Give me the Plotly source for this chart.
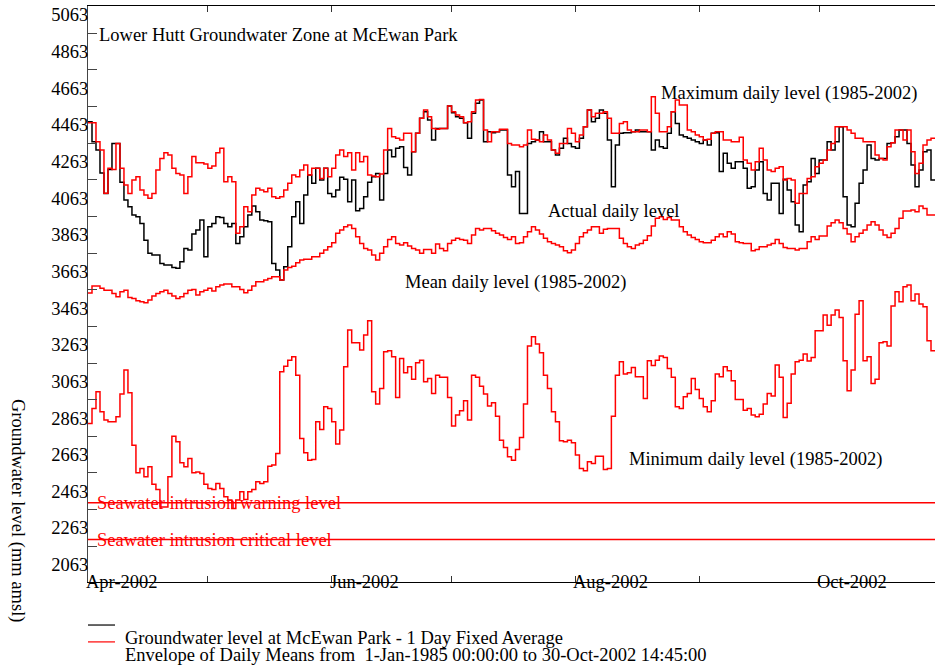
import pandas as pd
import plotly.graph_objects as go

START_DATE = "2002-04-01"
END_DATE = "2002-10-30"

MAX_LEVEL = [
    4475, 4475, 4371, 4326, 4090, 4226, 4220, 4362, 4226, 4135, 4089, 4162, 4180, 4107, 4080, 4062, 4089, 4217, 4280, 4311,
    4299, 4226, 4198, 4189, 4089, 4180, 4290, 4257, 4257, 4249, 4226, 4238, 4311, 4335, 4153, 4180, 4153, 3871, 3907, 4016,
    3989, 4080, 4117, 4107, 4098, 4117, 4071, 4062, 4071, 4107, 4144, 4189, 4180, 4217, 4244, 4189, 4226, 4226, 4171, 4226,
    4180, 4226, 4299, 4326, 4290, 4311, 4217, 4311, 4262, 4290, 4189, 4184, 4180, 4195, 4326, 4444, 4399, 4390, 4380, 4417,
    4417, 4317, 4417, 4499, 4544, 4508, 4444, 4439, 4444, 4444, 4566, 4535, 4517, 4508, 4475, 4480, 4535, 4599, 4602, 4435,
    4371, 4426, 4426, 4439, 4439, 4362, 4353, 4353, 4344, 4353, 4435, 4384, 4380, 4371, 4408, 4380, 4326, 4308, 4362, 4362,
    4444, 4417, 4371, 4408, 4453, 4544, 4508, 4526, 4526, 4535, 4499, 4417, 4417, 4471, 4480, 4435, 4426, 4426, 4435, 4435,
    4426, 4617, 4526, 4426, 4426, 4453, 4535, 4599, 4572, 4572, 4435, 4426, 4408, 4399, 4380, 4384, 4417, 4426, 4426, 4380,
    4380, 4371, 4371, 4395, 4271, 4253, 4217, 4262, 4335, 4271, 4217, 4208, 4226, 4235, 4162, 4171, 4162, 4035, 4089, 4089,
    4171, 4180, 4235, 4253, 4271, 4326, 4362, 4453, 4453, 4453, 4435, 4417, 4390, 4390, 4371, 4371, 4371, 4299, 4280, 4271,
    4344, 4366, 4435, 4435, 4380, 4435, 4317, 4198, 4253, 4353, 4380, 4390,
]

ACTUAL_LEVEL = [
    4480, 4371, 4326, 4200, 4089, 4220, 4362, 4362, 4150, 4053, 4016, 3971, 3962, 3925, 3834, 3762, 3753, 3753, 3707, 3698,
    3698, 3685, 3680, 3716, 3789, 3780, 3867, 3889, 3944, 3743, 3907, 3925, 3962, 3958, 3925, 3907, 3925, 3816, 3853, 3907,
    3971, 4020, 3989, 3944, 3940, 3935, 3707, 3671, 3616, 3689, 3798, 3962, 4044, 3925, 4080, 4189, 4144, 4226, 4162, 4226,
    4089, 4071, 4107, 4177, 4166, 4044, 4162, 3995, 4007, 4071, 4150, 4180, 4198, 4053, 4198, 4326, 4289, 4335, 4344, 4231,
    4189, 4317, 4417, 4499, 4535, 4490, 4380, 4444, 4444, 4444, 4566, 4530, 4508, 4499, 4475, 4390, 4526, 4581, 4599, 4371,
    4426, 4420, 4426, 4435, 4435, 4189, 4126, 4208, 3980, 3980, 4362, 4371, 4380, 4426, 4371, 4371, 4326, 4299, 4335, 4390,
    4362, 4344, 4335, 4390, 4453, 4544, 4480, 4499, 4544, 4526, 4380, 4126, 4353, 4417, 4420, 4420, 4426, 4435, 4426, 4426,
    4426, 4326, 4380, 4344, 4335, 4417, 4535, 4471, 4408, 4399, 4390, 4380, 4371, 4362, 4380, 4353, 4417, 4420, 4208, 4308,
    4253, 4226, 4262, 4262, 4226, 4117, 4126, 4217, 4262, 4089, 4053, 4144, 4144, 3980, 4166, 4107, 4044, 3916, 3880, 4135,
    4153, 4280, 4198, 4271, 4271, 4371, 4326, 4371, 4453, 4071, 3916, 3907, 4035, 4144, 4217, 4353, 4280, 4271, 4280, 4280,
    4362, 4366, 4399, 4435, 4435, 4362, 4244, 4126, 4217, 4317, 4326, 4162,
]

MEAN_LEVEL = [
    3545, 3583, 3583, 3571, 3561, 3561, 3543, 3525, 3552, 3561, 3521, 3516, 3503, 3498, 3492, 3507, 3529, 3543, 3552, 3561,
    3543, 3529, 3516, 3525, 3543, 3561, 3565, 3534, 3552, 3561, 3571, 3556, 3580, 3589, 3594, 3594, 3580, 3580, 3565, 3547,
    3561, 3583, 3607, 3607, 3616, 3625, 3634, 3634, 3616, 3671, 3685, 3692, 3711, 3725, 3729, 3729, 3743, 3743, 3762, 3780,
    3798, 3820, 3871, 3889, 3907, 3916, 3898, 3853, 3816, 3789, 3780, 3753, 3725, 3762, 3798, 3838, 3853, 3816, 3807, 3820,
    3802, 3789, 3780, 3762, 3783, 3783, 3762, 3813, 3789, 3776, 3816, 3834, 3844, 3838, 3834, 3816, 3862, 3898, 3889, 3898,
    3898, 3885, 3871, 3862, 3849, 3838, 3853, 3816, 3820, 3853, 3880, 3907, 3889, 3867, 3844, 3825, 3816, 3807, 3798, 3776,
    3765, 3780, 3816, 3853, 3874, 3889, 3907, 3907, 3871, 3893, 3898, 3898, 3898, 3844, 3816, 3798, 3789, 3807, 3816, 3834,
    3858, 3911, 3953, 3962, 3947, 3958, 3944, 3944, 3907, 3880, 3862, 3849, 3838, 3825, 3820, 3820, 3834, 3853, 3867, 3853,
    3880, 3867, 3825, 3820, 3816, 3816, 3776, 3783, 3798, 3798, 3807, 3816, 3838, 3816, 3794, 3789, 3789, 3780, 3789, 3789,
    3825, 3853, 3838, 3856, 3856, 3911, 3929, 3944, 3929, 3898, 3867, 3825, 3853, 3871, 3889, 3916, 3935, 3916, 3889, 3862,
    3849, 3871, 3898, 3953, 3993, 3993, 3998, 3989, 4020, 4007, 3971, 3971,
]

MIN_LEVEL = [
    2833, 2915, 3006, 2897, 2852, 2843, 2843, 2870, 2994, 3125, 3001, 2715, 2564, 2588, 2542, 2597, 2502, 2473, 2378, 2378,
    2542, 2764, 2733, 2619, 2597, 2642, 2564, 2569, 2560, 2502, 2479, 2473, 2506, 2479, 2433, 2415, 2369, 2415, 2460, 2418,
    2460, 2473, 2515, 2506, 2515, 2600, 2606, 2670, 3116, 3146, 3179, 3197, 3097, 2751, 2673, 2633, 2637, 2843, 2801, 2924,
    2915, 2843, 2721, 2797, 3143, 3343, 3274, 3274, 3234, 3316, 3394, 3006, 2939, 3024, 3225, 3230, 3197, 2975, 3188, 3110,
    3143, 3074, 3165, 3179, 3061, 3079, 2997, 3097, 3085, 3085, 2975, 2819, 2879, 2903, 2957, 2852, 3097, 3085, 3037, 2994,
    2928, 2946, 2873, 2742, 2702, 2651, 2633, 2691, 2757, 2939, 3256, 3307, 3267, 3219, 3097, 3024, 2897, 2843, 2739, 2733,
    2742, 2728, 2661, 2588, 2575, 2624, 2615, 2655, 2655, 2582, 2588, 2873, 3097, 3170, 3103, 3110, 3139, 3088, 3088, 2970,
    3176, 3150, 3179, 3201, 3194, 3134, 3085, 2924, 2915, 2979, 2997, 3079, 3019, 2970, 2924, 2897, 2957, 3103, 3088, 3143,
    3121, 3066, 2964, 2964, 2906, 2915, 2879, 2870, 2884, 2939, 2997, 2983, 3152, 3085, 2866, 2943, 3103, 3170, 3179, 3212,
    3174, 3194, 3339, 3339, 3425, 3370, 3425, 3452, 3412, 3176, 3012, 3125, 3430, 3503, 3176, 3197, 3052, 3074, 3274, 3279,
    3256, 3474, 3552, 3498, 3580, 3589, 3503, 3540, 3485, 3470, 3285, 3230,
]

WARNING_LEVEL = 2400
CRITICAL_LEVEL = 2200

Y_TICK_VALUES = [5063, 4863, 4663, 4463, 4263, 4063, 3863, 3663, 3463, 3263, 3063, 2863, 2663, 2463, 2263, 2063]
Y_MINOR_TICKS = [4963, 4763, 4563, 4363, 4163, 3963, 3763, 3563, 3363, 3163, 2963, 2763, 2563, 2363, 2163]
X_TICK_DATES = ["2002-05-01", "2002-06-01", "2002-07-01", "2002-08-01", "2002-09-01", "2002-10-01"]
X_LABEL_DATES = ["2002-04-01", "2002-06-01", "2002-08-01", "2002-10-01"]
X_LABELS = ["Apr-2002", "Jun-2002", "Aug-2002", "Oct-2002"]

FONT = "Liberation Serif"
FS = 18.5
RED = "rgb(255,0,0)"

days = pd.date_range(START_DATE, periods=len(ACTUAL_LEVEL), freq="D")
x_steps = list(days) + [pd.Timestamp(END_DATE)]


def steps(values):
    return list(values) + [values[-1]]


fig = go.Figure()
fig.add_trace(go.Scatter(x=x_steps, y=steps(ACTUAL_LEVEL), mode="lines", line=dict(color="black", width=1.5, shape="hv")))
for series in (MAX_LEVEL, MEAN_LEVEL, MIN_LEVEL):
    fig.add_trace(go.Scatter(x=x_steps, y=steps(series), mode="lines", line=dict(color=RED, width=1.5, shape="hv")))

annotations = []


def note(text, x, y, color="black", xref="x", yref="y", **kw):
    annotations.append(dict(text=text, x=x, y=y, xref=xref, yref=yref, showarrow=False, xanchor="left",
                            yanchor="middle", font=dict(family=FONT, size=FS, color=color), **kw))


note("Lower Hutt Groundwater Zone at McEwan Park", 0.0106, 4955, xref="paper")
note("Maximum daily level (1985-2002)", "2002-08-22 00:00", 4637)
note("Actual daily level", "2002-07-24 18:00", 3993)
note("Mean daily level (1985-2002)", "2002-06-18 18:00", 3605)
note("Minimum daily level (1985-2002)", "2002-08-14 00:00", 2634)
note("Seawater intrusion warning level", "2002-04-02 18:00", WARNING_LEVEL, color=RED)
note("Seawater intrusion critical level", "2002-04-02 18:00", CRITICAL_LEVEL, color=RED)
for d, lab in zip(X_LABEL_DATES, X_LABELS):
    note(lab, d, 0, yref="paper", xshift=-4)

annotations.append(dict(text="Groundwater level (mm amsl)", x=-0.0826, y=0.125, xref="paper", yref="paper",
                        showarrow=False, textangle=90, xanchor="center", yanchor="middle",
                        font=dict(family=FONT, size=FS, color="black")))
note("Groundwater level at McEwan Park - 1 Day Fixed Average", 0.0413, -0.0972, xref="paper", yref="paper")
note("Envelope of Daily Means from  1-Jan-1985 00:00:00 to 30-Oct-2002 14:45:00", 0.0413, -0.1267,
     xref="paper", yref="paper")

shapes = [
    dict(type="line", xref="paper", yref="y", x0=0, x1=1, y0=WARNING_LEVEL, y1=WARNING_LEVEL,
         line=dict(color=RED, width=1.5)),
    dict(type="line", xref="paper", yref="y", x0=0, x1=1, y0=CRITICAL_LEVEL, y1=CRITICAL_LEVEL,
         line=dict(color=RED, width=1.5)),
    dict(type="line", xref="paper", yref="paper", x0=0, x1=0.0319, y0=-0.0747, y1=-0.0747,
         line=dict(color="black", width=1.2)),
    dict(type="line", xref="paper", yref="paper", x0=0, x1=0.0319, y0=-0.104, y1=-0.104,
         line=dict(color=RED, width=1.2)),
]

fig.update_layout(
    width=935, height=666,
    margin=dict(l=88, r=0, t=6, b=84),
    paper_bgcolor="white", plot_bgcolor="white",
    showlegend=False,
    font=dict(family=FONT, size=FS, color="black"),
    annotations=annotations,
    shapes=shapes,
    xaxis=dict(type="date", range=[START_DATE, END_DATE], showgrid=False, zeroline=False,
               showline=True, linecolor="black", linewidth=1, mirror="ticks",
               ticks="inside", ticklen=6, tickcolor="#333", tickmode="array", tickvals=X_TICK_DATES,
               showticklabels=False),
    yaxis=dict(range=[1968, 5112], showgrid=False, zeroline=False, showline=True, linecolor="#444",
               linewidth=1, ticks="", tickmode="array", tickvals=Y_TICK_VALUES, ticklabelstandoff=-5,
               ticktext=[str(v) for v in Y_TICK_VALUES], tickfont=dict(family=FONT, size=FS, color="black"),
               minor=dict(ticks="inside", ticklen=9, tickcolor="#444", tickmode="array", tickvals=Y_MINOR_TICKS)),
)

fig.write_html("out.html", config={"displayModeBar": False},
               post_script="document.body.style.margin='0';document.body.style.overflow='hidden';")
